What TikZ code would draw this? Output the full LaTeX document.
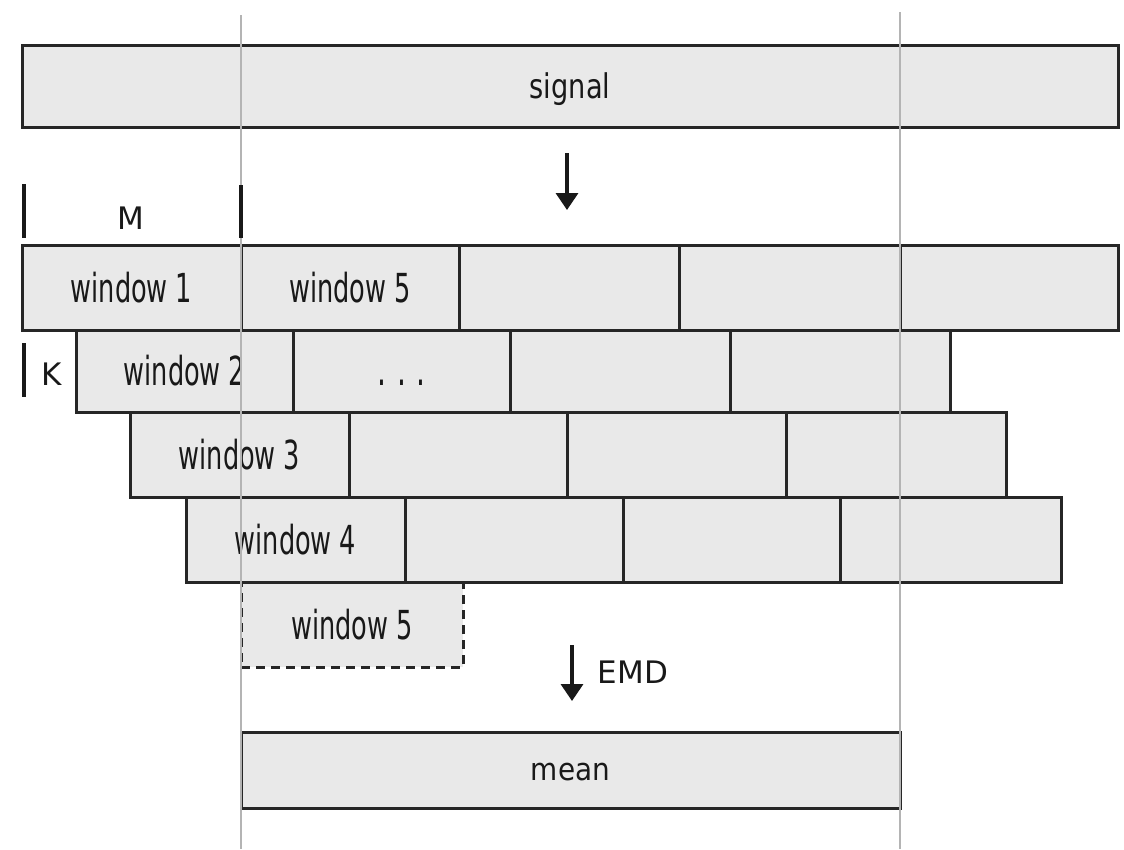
\documentclass[tikz,border=0pt]{standalone}
\usepackage{fontspec}
\setmainfont{DejaVu Sans}
\newfontfamily\winfont[FakeStretch=0.64]{DejaVu Sans}
\newfontfamily\sigfont[FakeStretch=0.8]{DejaVu Sans}
\newfontfamily\meanfont[FakeStretch=0.9]{DejaVu Sans}
\usetikzlibrary{arrows.meta}
\definecolor{cellfill}{RGB}{233,233,233}
\definecolor{edge}{RGB}{38,38,38}
\definecolor{ink}{RGB}{25,25,25}
\definecolor{guide}{RGB}{180,180,180}
\tikzset{
  cell/.style={draw=edge, fill=cellfill, line width=3pt, rectangle,
    inner sep=0pt, outer sep=0pt, anchor=north west, text=ink,
    font=\winfont\fontsize{40}{48}\selectfont, text height=29pt, text depth=0pt},
  ghostcell/.style={cell, dash pattern=on 9pt off 6pt},
  signalbox/.style={cell, font=\sigfont\fontsize{34}{40}\selectfont, text height=24pt},
  meanbox/.style={cell, font=\meanfont\fontsize{31}{37}\selectfont, text height=20pt},
  dimlabel/.style={inner sep=0pt, font=\fontsize{31}{37}\selectfont, text=ink},
  tick/.style={draw=ink, line width=3.5pt},
  flow/.style={draw=ink, line width=3.5pt, -{Triangle[width=22pt,length=17pt]}},
  guideline/.style={draw=guide, line width=2pt},
}
\begin{document}
\begin{tikzpicture}[x=1pt, y=-1pt]
  \useasboundingbox[fill=white] (0,0) rectangle (1124,849);

  % input signal
  \node[signalbox, minimum width=1096pt, minimum height=82pt] (signal) at (22,45) {signal};
  \coordinate (a1s) at (567,153);
  \coordinate (a1e) at (567,210);
  \draw[flow] (a1s) -- (a1e);

  % ghost of window 5 below the stack
  \node[ghostcell, minimum width=222pt, minimum height=85pt] (w5ghost) at (241,582) {window 5};

  % row 1
  \node[cell, minimum width=219pt, minimum height=85pt] (w1)  at (22,245)  {window 1};
  \node[cell, minimum width=218pt, minimum height=85pt] (w5)  at (241,245) {window 5};
  \node[cell, minimum width=220pt, minimum height=85pt] (r1c) at (459,245) {};
  \node[cell, minimum width=221pt, minimum height=85pt] (r1d) at (679,245) {};
  \node[cell, minimum width=218pt, minimum height=85pt] (r1e) at (900,245) {};

  % row 2
  \node[cell, minimum width=217pt, minimum height=82pt] (w2)  at (76,330)  {window 2};
  \node[cell, minimum width=217pt, minimum height=82pt, font=\winfont\fontsize{44}{48}\selectfont]
    (r2b) at (293,330) {.\hspace{11pt}.\hspace{11pt}.};
  \node[cell, minimum width=220pt, minimum height=82pt] (r2c) at (510,330) {};
  \node[cell, minimum width=220pt, minimum height=82pt] (r2d) at (730,330) {};

  % row 3
  \node[cell, minimum width=219pt, minimum height=85pt] (w3)  at (130,412) {window 3};
  \node[cell, minimum width=218pt, minimum height=85pt] (r3b) at (349,412) {};
  \node[cell, minimum width=219pt, minimum height=85pt] (r3c) at (567,412) {};
  \node[cell, minimum width=220pt, minimum height=85pt] (r3d) at (786,412) {};

  % row 4
  \node[cell, minimum width=219pt, minimum height=85pt] (w4)  at (186,497) {window 4};
  \node[cell, minimum width=218pt, minimum height=85pt] (r4b) at (405,497) {};
  \node[cell, minimum width=217pt, minimum height=85pt] (r4c) at (623,497) {};
  \node[cell, minimum width=221pt, minimum height=85pt] (r4d) at (840,497) {};

  % EMD step and averaged result
  \coordinate (a2s) at (572,645);
  \coordinate (a2e) at (572,701);
  \draw[flow] (a2s) -- (a2e);
  \node[dimlabel] (emd) at (633,672) {EMD};
  \node[meanbox, minimum width=659pt, minimum height=76pt] (mean) at (241,732) {mean};

  % vertical guides
  \coordinate (g1t) at (241,15); \coordinate (g1b) at (241,849);
  \coordinate (g2t) at (900,12); \coordinate (g2b) at (900,849);
  \draw[guideline] (g1t) -- (g1b);
  \draw[guideline] (g2t) -- (g2b);

  % window length M
  \coordinate (m1t) at (24,184);  \coordinate (m1b) at (24,238);
  \coordinate (m2t) at (241,185); \coordinate (m2b) at (241,238);
  \draw[tick] (m1t) -- (m1b);
  \draw[tick] (m2t) -- (m2b);
  \node[dimlabel] (mlab) at (131,218) {M};

  % shift K
  \coordinate (k1t) at (24,343); \coordinate (k1b) at (24,397);
  \draw[tick] (k1t) -- (k1b);
  \node[dimlabel] (klab) at (52,374) {K};
\end{tikzpicture}
\end{document}
